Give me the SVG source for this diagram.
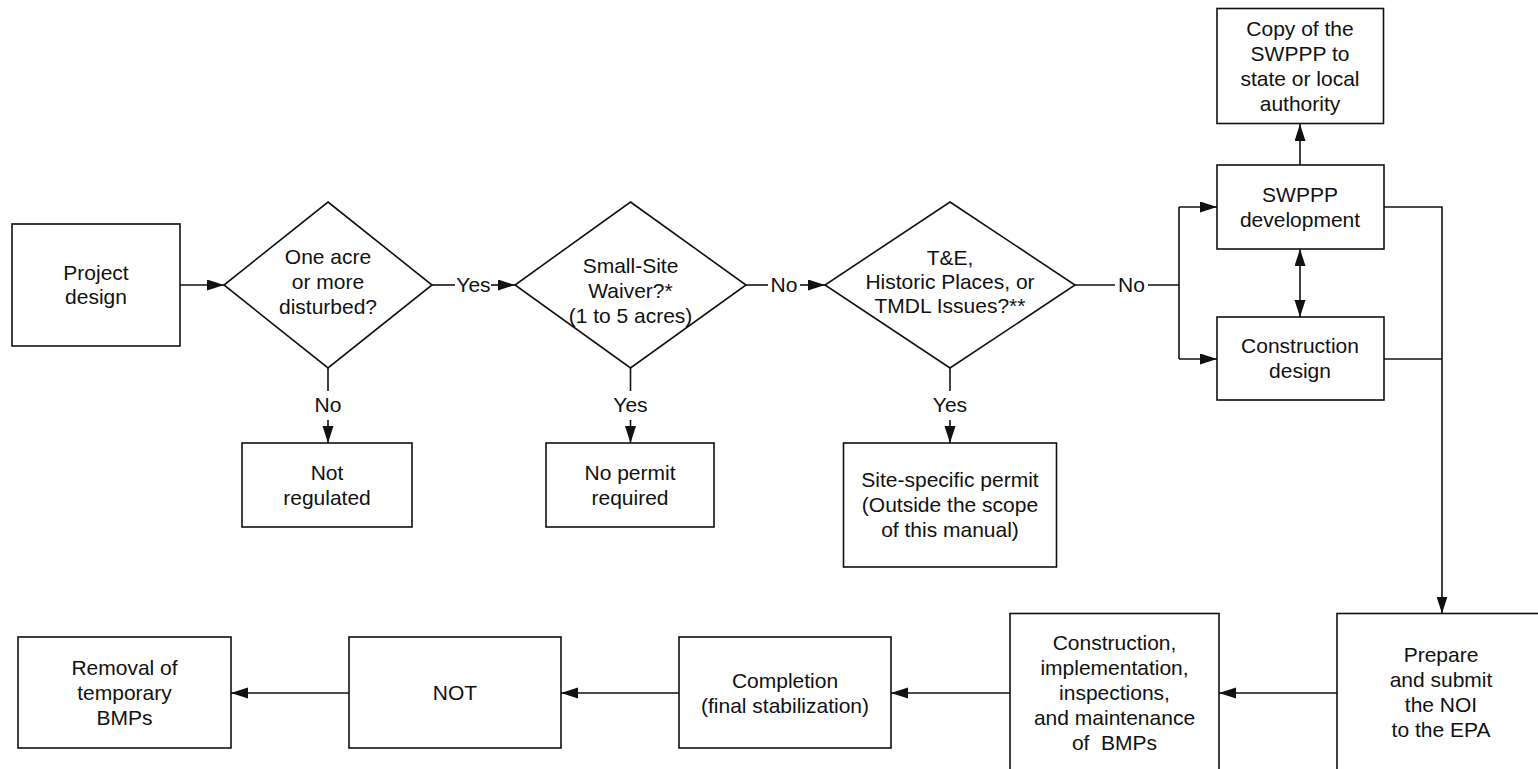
<svg xmlns="http://www.w3.org/2000/svg" width="1538" height="769" viewBox="0 0 1538 769">
<defs>
<style>
.box{fill:#fff;stroke:#111;stroke-width:1.6}
.dia{fill:#fff;stroke:#111;stroke-width:1.6}
.t{font-family:"Liberation Sans",Arial,sans-serif;font-size:21px;fill:#111;text-anchor:middle;white-space:pre}
.c{fill:none;stroke:#111;stroke-width:1.6}
.a{fill:none;stroke:#111;stroke-width:1.6;marker-end:url(#ah)}
</style>
<marker id="ah" markerUnits="userSpaceOnUse" markerWidth="18" markerHeight="12" refX="17" refY="5.5" orient="auto">
<path d="M0,0 L17,5.5 L0,11 z" fill="#111"/>
</marker>
<marker id="as" markerUnits="userSpaceOnUse" markerWidth="18" markerHeight="12" refX="17" refY="5.5" orient="auto-start-reverse">
<path d="M0,0 L17,5.5 L0,11 z" fill="#111"/>
</marker>
</defs>
<rect width="1538" height="769" fill="#fff"/>

<g id="connectors">
<path class="a" d="M180,285 H224"/>
<path class="c" d="M432,285 H455"/>
<text class="t" x="473.5" y="292">Yes</text>
<path class="a" d="M491,285 H515"/>
<path class="c" d="M746,285 H768"/>
<text class="t" x="784" y="292">No</text>
<path class="a" d="M800,285 H825"/>
<path class="c" d="M1075,285 H1115"/>
<text class="t" x="1131.5" y="292">No</text>
<path class="c" d="M1148,285 H1179 M1179,207 V359"/>
<path class="a" d="M1179,207 H1217"/>
<path class="a" d="M1179,359 H1217"/>
<path class="c" d="M328,368 V391"/>
<text class="t" x="328" y="412">No</text>
<path class="a" d="M328,420 V443"/>
<path class="c" d="M630.5,368 V391"/>
<text class="t" x="630.5" y="412">Yes</text>
<path class="a" d="M630.5,420 V443"/>
<path class="c" d="M950,368 V391"/>
<text class="t" x="950" y="412">Yes</text>
<path class="a" d="M950,420 V443"/>
<path class="a" d="M1300,165 V124"/>
<path class="c" d="M1300,249 V317" style="marker-start:url(#as);marker-end:url(#ah)"/>
<path class="a" d="M1384,207 H1442 V613.5"/>
<path class="c" d="M1384,359 H1442"/>
<path class="a" d="M1337,693 H1219"/>
<path class="a" d="M1010,693 H891"/>
<path class="a" d="M679,693 H561"/>
<path class="a" d="M349,693 H231"/>
</g>

<g id="project-design">
<rect class="box" x="12" y="224" width="168" height="122"/>
<text class="t" x="96" y="280">Project</text>
<text class="t" x="96" y="304">design</text>
</g>

<g id="one-acre">
<polygon class="dia" points="328,202 432,285 328,368 224,285"/>
<text class="t" x="328" y="264">One acre</text>
<text class="t" x="328" y="289">or more</text>
<text class="t" x="328" y="314">disturbed?</text>
</g>

<g id="small-site">
<polygon class="dia" points="630.5,202 746,285 630.5,368 515,285"/>
<text class="t" x="630.5" y="273">Small-Site</text>
<text class="t" x="630.5" y="298">Waiver?*</text>
<text class="t" x="630.5" y="323">(1 to 5 acres)</text>
</g>

<g id="te-issues">
<polygon class="dia" points="950,202 1075,285 950,368 825,285"/>
<text class="t" x="950" y="265">T&amp;E,</text>
<text class="t" x="950" y="289">Historic Places, or</text>
<text class="t" x="950" y="313">TMDL Issues?**</text>
</g>

<g id="not-regulated">
<rect class="box" x="242" y="443" width="170" height="84"/>
<text class="t" x="327" y="480">Not</text>
<text class="t" x="327" y="505">regulated</text>
</g>

<g id="no-permit">
<rect class="box" x="546" y="443" width="168" height="84"/>
<text class="t" x="630" y="480">No permit</text>
<text class="t" x="630" y="505">required</text>
</g>

<g id="site-specific">
<rect class="box" x="843.5" y="443" width="213" height="124"/>
<text class="t" x="950" y="487">Site-specific permit</text>
<text class="t" x="950" y="512">(Outside the scope</text>
<text class="t" x="950" y="537">of this manual)</text>
</g>

<g id="copy-swppp">
<rect class="box" x="1217" y="8.5" width="166.5" height="115"/>
<text class="t" x="1300" y="36">Copy of the</text>
<text class="t" x="1300" y="61">SWPPP to</text>
<text class="t" x="1300" y="86">state or local</text>
<text class="t" x="1300" y="111">authority</text>
</g>

<g id="swppp-dev">
<rect class="box" x="1217" y="165" width="167" height="84"/>
<text class="t" x="1300" y="202">SWPPP</text>
<text class="t" x="1300" y="227">development</text>
</g>

<g id="construction-design">
<rect class="box" x="1217" y="317" width="167" height="83"/>
<text class="t" x="1300" y="353">Construction</text>
<text class="t" x="1300" y="378">design</text>
</g>

<g id="prepare-noi">
<rect class="box" x="1337" y="613.5" width="220" height="170"/>
<text class="t" x="1441" y="661.5">Prepare</text>
<text class="t" x="1441" y="686.5">and submit</text>
<text class="t" x="1441" y="711.5">the NOI</text>
<text class="t" x="1441" y="736.5">to the EPA</text>
</g>

<g id="construction-impl">
<rect class="box" x="1010" y="613.5" width="209" height="170"/>
<text class="t" x="1114.5" y="650">Construction,</text>
<text class="t" x="1114.5" y="675">implementation,</text>
<text class="t" x="1114.5" y="700">inspections,</text>
<text class="t" x="1114.5" y="725">and maintenance</text>
<text class="t" x="1114.5" y="750">of  BMPs</text>
</g>

<g id="completion">
<rect class="box" x="679" y="637" width="212" height="111"/>
<text class="t" x="785" y="688">Completion</text>
<text class="t" x="785" y="713">(final stabilization)</text>
</g>

<g id="not">
<rect class="box" x="349" y="637" width="212" height="111"/>
<text class="t" x="455" y="700">NOT</text>
</g>

<g id="removal">
<rect class="box" x="18" y="637" width="213" height="111"/>
<text class="t" x="124.5" y="674.5">Removal of</text>
<text class="t" x="124.5" y="699.5">temporary</text>
<text class="t" x="124.5" y="724.5">BMPs</text>
</g>
</svg>
